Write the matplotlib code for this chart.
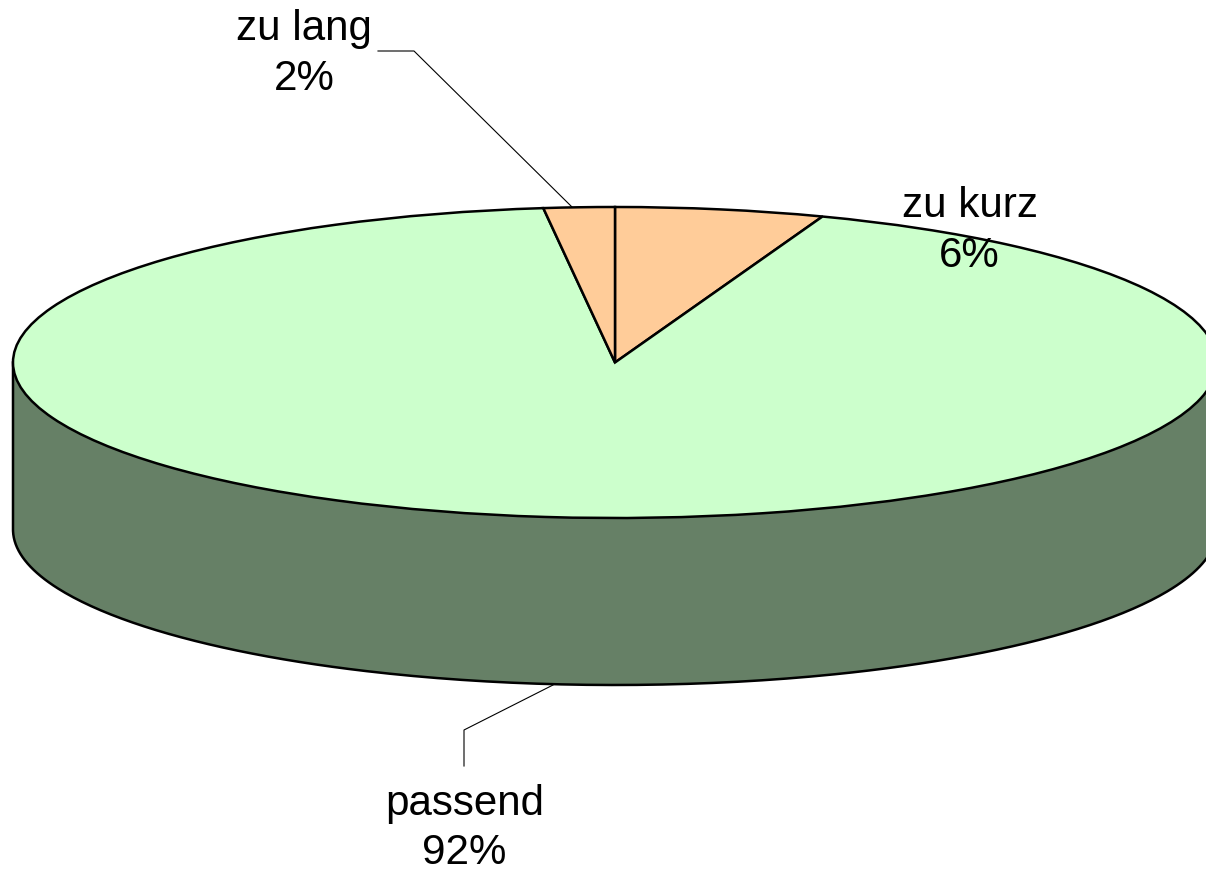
import numpy as np
from matplotlib import pyplot as plt
from matplotlib.patches import Wedge
from matplotlib.transforms import Affine2D

# shares as measured from the slice edges, the labels show them rounded
labels = ['zu kurz', 'passend', 'zu lang']
shares = [5.6, 92.5, 1.9]
share_text = ['6%', '92%', '2%']
colors = ['#FFCC99', '#CCFFCC', '#FFCC99']

plt.rcParams['font.family'] = ['Liberation Sans', 'DejaVu Sans']

fig = plt.figure(figsize=(12.06, 8.69), dpi=100)
ax = fig.add_axes([0, 0, 1, 1])
ax.set_xlim(0, 1206)
ax.set_ylim(869, 0)
ax.axis('off')

cx, cy = 615, 362.5
a, b = 602, 155.5
depth = 167

#side wall, only the front half of the ellipse shows
t = np.linspace(0, np.pi, 300)
xs = cx + a * np.cos(t)
ys = cy + b * np.sin(t)
ax.fill(np.r_[xs, xs[::-1]], np.r_[ys, ys[::-1] + depth], fc='#668066', ec='none', zorder=1)
ax.plot(np.r_[xs[0], xs, xs[-1]], np.r_[cy, ys + depth, cy], c='black', lw=1.8,
	solid_joinstyle='round', zorder=2)

#top face, clockwise from twelve o'clock
squash = Affine2D().scale(a, -b).translate(cx, cy) + ax.transData
start = 0
for share, color in zip(shares, colors):
	sweep = share / sum(shares) * 360
	ax.add_patch(Wedge((0, 0), 1, 90 - start - sweep, 90 - start, fc=color, ec='black',
		lw=1.8, transform=squash, zorder=3))
	start += sweep

#labels and leader lines
font = 30.3
ax.text(969.5, 231, labels[0] + '\n' + share_text[0], ha='center', va='center', fontsize=font,
	linespacing=1.3, zorder=4)
ax.text(304, 54, labels[2] + '\n' + share_text[2], ha='center', va='center', fontsize=font,
	linespacing=1.3, zorder=4)
ax.text(464.5, 828.5, labels[1] + '\n' + share_text[1], ha='center', va='center', fontsize=font,
	linespacing=1.3, zorder=4)
ax.plot([378, 414, 572], [51, 51, 207], c='black', lw=0.8, zorder=2)
ax.plot([553, 464, 464], [685, 730, 766], c='black', lw=0.8, zorder=2)

plt.savefig('out.png', dpi=100)
